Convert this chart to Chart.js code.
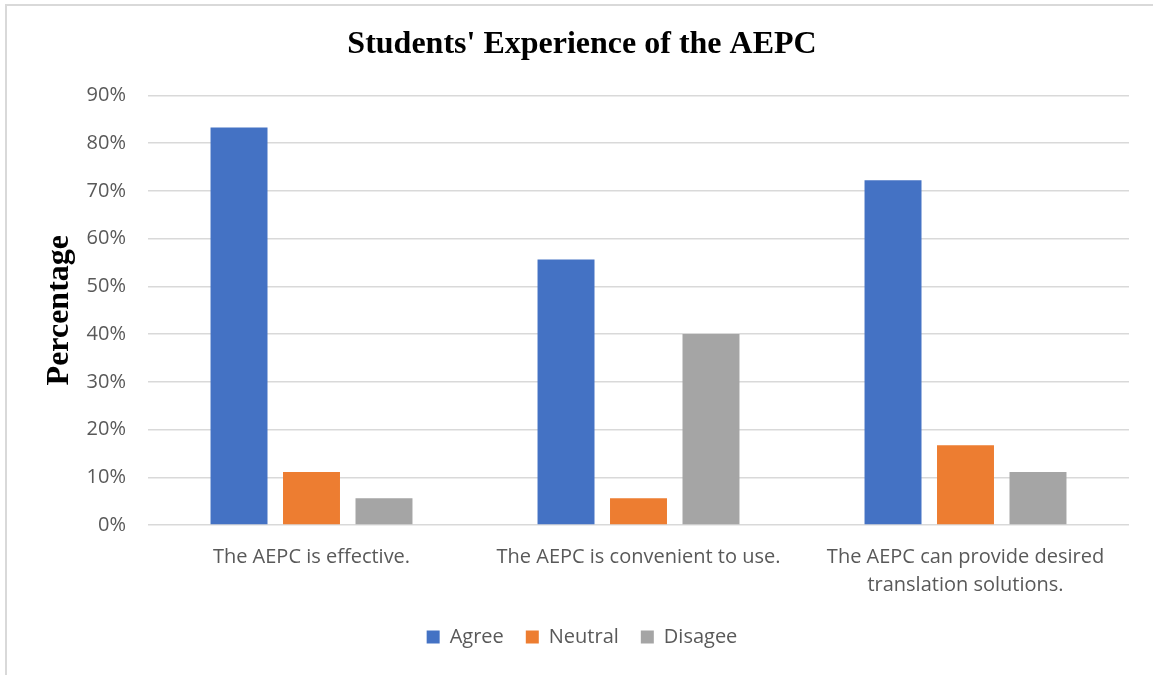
<!DOCTYPE html>
<html>
<head>
<meta charset="utf-8">
<script src="https://cdn.jsdelivr.net/npm/chart.js@4"></script>
<style>
  html, body { margin: 0; padding: 0; background: #fff; }
  #wrap { width: 1153px; height: 675px; }
</style>
</head>
<body>
<div id="wrap"><canvas id="aepcChart" width="1153" height="675"></canvas></div>
<script>
const categories = [
  'The AEPC is effective.',
  'The AEPC is convenient to use.',
  ['The AEPC can provide desired', 'translation solutions.']
];
const agree = [83.3, 55.6, 72.2];
const neutral = [11.1, 5.6, 16.7];
const disagree = [5.6, 40.0, 11.1];

const tickFont = { family: '"Open Sans", "Noto Sans", sans-serif', size: 20 };
const catFont = { family: '"Open Sans", "Noto Sans", sans-serif', size: 20, lineHeight: 1.4 };
const serifBold = { family: '"Liberation Serif", "Times New Roman", serif', size: 32, weight: 'bold' };
const PLOT_LEFT = 148;
const PAD_LEFT = 35;

// thin grey frame along the top and left edges
const frame = {
  id: 'frame',
  beforeDraw(chart) {
    const { ctx, width, height } = chart;
    ctx.save();
    ctx.strokeStyle = '#d9d9d9';
    ctx.lineWidth = 2;
    ctx.beginPath();
    ctx.moveTo(6, height);
    ctx.lineTo(6, 5);
    ctx.lineTo(width, 5);
    ctx.stroke();
    ctx.restore();
  }
};

const ctx = document.getElementById('aepcChart').getContext('2d');
new Chart(ctx, {
  type: 'bar',
  data: {
    labels: categories,
    datasets: [
      { label: 'Agree', data: agree, backgroundColor: '#4472C4' },
      { label: 'Neutral', data: neutral, backgroundColor: '#ED7D31' },
      { label: 'Disagee', data: disagree, backgroundColor: '#A5A5A5' }
    ]
  },
  options: {
    responsive: false,
    animation: false,
    layout: { padding: { left: PAD_LEFT, right: 24, top: 10, bottom: 18 } },
    datasets: { bar: { categoryPercentage: 0.665, barPercentage: 0.786 } },
    plugins: {
      title: {
        display: true,
        text: "Students' Experience of the AEPC",
        color: '#000',
        font: serifBold,
        padding: { top: 16, bottom: 31 }
      },
      legend: {
        position: 'bottom',
        labels: {
          color: '#595959',
          font: tickFont,
          boxWidth: 13,
          boxHeight: 13,
          padding: 22
        }
      },
      tooltip: { enabled: false }
    },
    scales: {
      x: {
        grid: { display: false, drawTicks: false },
        border: { display: false },
        ticks: { color: '#595959', font: catFont, padding: 18, maxRotation: 0 },
        afterFit(scale) { scale.height = 80; }
      },
      y: {
        min: 0,
        max: 90,
        ticks: {
          stepSize: 10,
          color: '#595959',
          font: tickFont,
          padding: 22,
          callback: (v) => v + '%'
        },
        grid: { color: '#d9d9d9', lineWidth: 1.5, drawTicks: false },
        border: { display: false },
        title: {
          display: true,
          text: 'Percentage',
          color: '#000',
          font: serifBold,
          padding: { top: 6, bottom: 0 }
        },
        afterFit(scale) { scale.width = PLOT_LEFT - PAD_LEFT; }
      }
    }
  },
  plugins: [frame]
});
</script>
</body>
</html>
